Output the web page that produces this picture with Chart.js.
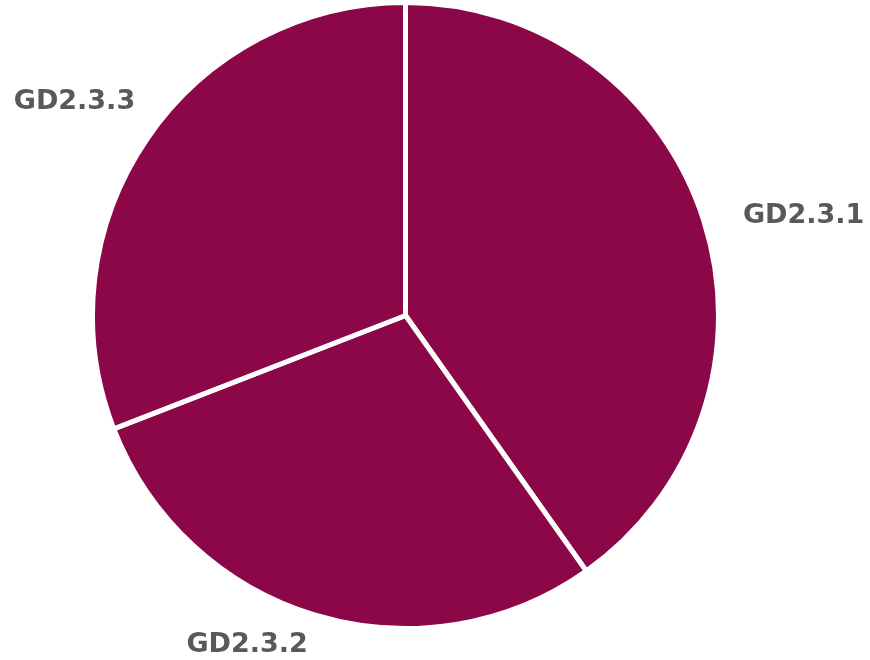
<!DOCTYPE html>
<html>
<head>
<meta charset="utf-8">
<script src="https://cdn.jsdelivr.net/npm/chart.js@4.4.1/dist/chart.umd.min.js"></script>
<style>
  html, body { margin: 0; padding: 0; background: #ffffff; }
  #wrap { width: 870px; height: 660px; position: relative; }
</style>
</head>
<body>
<div id="wrap"><canvas id="chart" width="870" height="660"></canvas></div>
<script>
// Share of items per sub-indicator
const categories = ['GD2.3.1', 'GD2.3.2', 'GD2.3.3'];
const shares = [40.2, 28.9, 30.9];

const sliceColor = '#8B0747';
const labelColor = '#595959';

// Draws each category name just outside its slice, at the slice's middle angle
const outsideLabels = {
  id: 'outsideLabels',
  afterDatasetsDraw(chart, args, opts) {
    const { ctx } = chart;
    const meta = chart.getDatasetMeta(0);
    ctx.save();
    ctx.font = opts.font;
    ctx.fillStyle = opts.color;
    ctx.textBaseline = 'middle';
    meta.data.forEach((arc, i) => {
      const { x, y, startAngle, endAngle, outerRadius } = arc.getProps(
        ['x', 'y', 'startAngle', 'endAngle', 'outerRadius'], true);
      const mid = (startAngle + endAngle) / 2;
      const r = outerRadius + opts.distance;
      const nudge = opts.nudge[i] || [0, 0];
      const px = x + Math.cos(mid) * r + nudge[0];
      const py = y + Math.sin(mid) * r + nudge[1];
      ctx.textAlign = Math.cos(mid) >= 0 ? 'left' : 'right';
      ctx.fillText(chart.data.labels[i], px, py);
    });
    ctx.restore();
  }
};

new Chart(document.getElementById('chart'), {
  type: 'pie',
  data: {
    labels: categories,
    datasets: [{
      data: shares,
      backgroundColor: sliceColor,
      hoverBackgroundColor: sliceColor,
      borderColor: '#ffffff',
      hoverBorderColor: '#ffffff',
      borderWidth: 5
    }]
  },
  options: {
    responsive: false,
    animation: false,
    events: [],
    layout: { padding: { top: 0, bottom: 29, left: 90, right: 149 } },
    plugins: {
      legend: { display: false },
      tooltip: { enabled: false },
      outsideLabels: {
        font: 'bold 27px "DejaVu Sans"',
        color: labelColor,
        distance: 40,
        nudge: [[1, 7], [4, -9], [21, -14]]
      }
    }
  },
  plugins: [outsideLabels]
});
</script>
</body>
</html>
